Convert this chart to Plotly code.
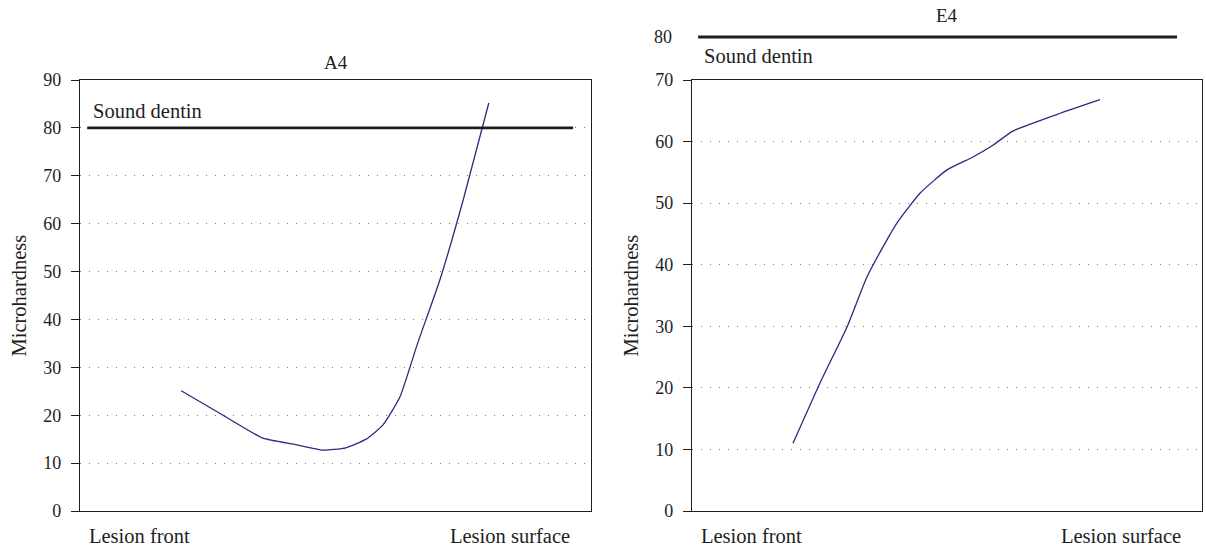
import plotly.graph_objects as go

# ---- data ----
a4_pos = [19.8, 28.0, 35.8, 42.0, 47.5, 52.0, 56.0, 59.3, 62.6, 66.0, 70.5, 75.0, 80.0]
a4_hard = [25.1, 20.0, 15.2, 13.9, 12.7, 13.2, 15.0, 18.0, 23.8, 34.8, 48.5, 65.0, 85.2]

e4_pos = [19.8, 25.1, 30.4, 34.3, 38.2, 40.2, 44.7, 50.0, 55.1, 59.0, 62.9, 72.2, 80.0]
e4_hard = [11.0, 20.8, 29.9, 38.0, 44.0, 46.8, 51.6, 55.4, 57.5, 59.4, 61.7, 64.6, 66.8]

sound_dentin = 80
a4_ticks = [0, 10, 20, 30, 40, 50, 60, 70, 80, 90]
e4_ticks = [0, 10, 20, 30, 40, 50, 60, 70]
x_labels = ["Lesion front", "Lesion surface"]
titles = ["A4", "E4"]
y_title = "Microhardness"

FONT = "Liberation Serif"
FS = 18      # digits
FW = 20.5    # words
CURVE = "#2b2a7c"
INK = "#1e1e1e"
W, H = 1206, 548

fig = go.Figure()
fig.add_trace(go.Scatter(x=a4_pos, y=a4_hard, mode="lines",
                         line=dict(color=CURVE, width=1.3, shape="spline", smoothing=0.5),
                         xaxis="x", yaxis="y", showlegend=False))
fig.add_trace(go.Scatter(x=e4_pos, y=e4_hard, mode="lines",
                         line=dict(color=CURVE, width=1.3, shape="spline", smoothing=0.5),
                         xaxis="x2", yaxis="y2", showlegend=False))

yd = [(H - 511) / H, (H - 80) / H]
xd1 = [80 / W, 591 / W]
xd2 = [692 / W, 1202 / W]

grid = dict(showgrid=True, gridcolor="#777777", gridwidth=1, griddash="1px,8px")
common_y = dict(showline=True, linecolor=INK, linewidth=1.3, mirror=True, ticks="outside", ticklen=8,
                tickcolor=INK, tickwidth=1.2, ticklabelstandoff=6, automargin=False,
                tickfont=dict(family=FONT, size=FS, color=INK), zeroline=False, **grid)
common_x = dict(showline=True, linecolor=INK, linewidth=1.3, mirror=True, ticks="", showgrid=False,
                zeroline=False, range=[0, 100], showticklabels=False, automargin=False)

fig.update_layout(
    width=W, height=H, margin=dict(l=0, r=0, t=0, b=0),
    paper_bgcolor="white", plot_bgcolor="white",
    font=dict(family=FONT, size=FS, color=INK),
    xaxis=dict(domain=xd1, anchor="y", **common_x),
    yaxis=dict(domain=yd, anchor="x", range=[0, 90], tickvals=a4_ticks, **common_y),
    xaxis2=dict(domain=xd2, anchor="y2", **common_x),
    yaxis2=dict(domain=yd, anchor="x2", range=[0, 70], tickvals=e4_ticks, **common_y),
)

# Sound dentin (A4) inside the plot
fig.add_shape(type="line", xref="x domain", yref="y", x0=0.014, x1=0.965, y0=sound_dentin, y1=sound_dentin,
              line=dict(color=INK, width=2.8))
fig.add_annotation(xref="x domain", yref="y", x=0.022, y=sound_dentin, text="Sound dentin", showarrow=False,
                   xanchor="left", yanchor="middle", yshift=17, font=dict(family=FONT, size=FW, color=INK))

# Sound dentin (E4) drawn above the broken axis
top_y = (511 - 37) / (511 - 80)
fig.add_shape(type="line", xref="x2 domain", yref="y2 domain", x0=0.012, x1=0.951, y0=top_y, y1=top_y,
              line=dict(color=INK, width=2.8))
fig.add_annotation(xref="x2 domain", yref="y2 domain", x=-0.035, y=top_y, text=str(sound_dentin), showarrow=False,
                   xanchor="right", yanchor="middle", font=dict(family=FONT, size=FS, color=INK))
fig.add_annotation(xref="x2 domain", yref="y2 domain", x=0.02, y=top_y, text="Sound dentin", showarrow=False,
                   xanchor="left", yanchor="middle", yshift=-19, font=dict(family=FONT, size=FW, color=INK))

for xr, yr, shift, title in [("x domain", "y domain", 18, titles[0]), ("x2 domain", "y2 domain", 65, titles[1])]:
    fig.add_annotation(xref=xr, yref=yr, x=0.5, y=1, yshift=shift, text=title, showarrow=False,
                       yanchor="middle", font=dict(family=FONT, size=19, color=INK))
    # y-axis title
    fig.add_annotation(xref=xr, yref=yr, x=0, y=0.5, xshift=-62, text=y_title, textangle=-90, showarrow=False,
                       xanchor="center", yanchor="middle", font=dict(family=FONT, size=FW, color=INK))
    # x-axis end labels
    fig.add_annotation(xref=xr, yref=yr, x=0.014, y=0, yshift=-25, text=x_labels[0], showarrow=False,
                       xanchor="left", yanchor="middle", font=dict(family=FONT, size=FW, color=INK))
    fig.add_annotation(xref=xr, yref=yr, x=0.963, y=0, yshift=-25, text=x_labels[1], showarrow=False,
                       xanchor="right", yanchor="middle", font=dict(family=FONT, size=FW, color=INK))

fig.write_html("out.html", config={"displayModeBar": False},
               post_script="document.body.style.margin='0';document.body.style.overflow='hidden';")
